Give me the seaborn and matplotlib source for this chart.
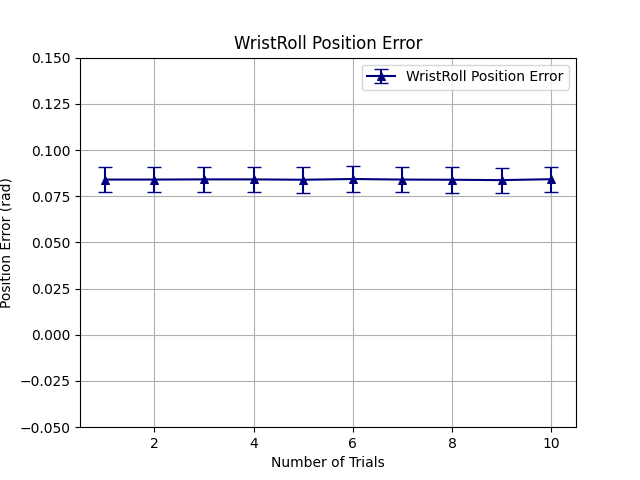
import pandas as pd
import matplotlib
matplotlib.use('Agg')
import matplotlib.pyplot as plt
import seaborn as sns
import numpy as np

# values
trials = [1, 2, 3, 4, 5, 6, 7, 8, 9, 10]
mean_err = [0.0840, 0.0840, 0.0841, 0.0841, 0.0839, 0.0843, 0.0840, 0.0839, 0.0837, 0.0842]
std_err = [0.0068, 0.0068, 0.0068, 0.0068, 0.0070, 0.0068, 0.0068, 0.0070, 0.0067, 0.0068]

df = pd.DataFrame({'trial': trials, 'error': mean_err, 'std': std_err})

fig, ax = plt.subplots(figsize=(6.4, 4.8), dpi=100)

line_ax = sns.lineplot(data=df, x='trial', y='error', color='navy', marker='^',
                       markersize=6, markeredgecolor='navy', ax=ax, legend=False)
bars = ax.errorbar(df['trial'], df['error'], yerr=df['std'], fmt='none',
                   ecolor='navy', capsize=5)

ax.set_xlim(0.5, 10.5)
ax.set_ylim(-0.05, 0.15)
ax.set_yticks(np.arange(-0.05, 0.151, 0.025))
ax.set_xticks([2, 4, 6, 8, 10])
ax.grid(True, color='#b0b0b0')
ax.set_title('WristRoll Position Error')
ax.set_xlabel('Number of Trials')
ax.set_ylabel('Position Error (rad)')
ax.legend(handles=[(line_ax.lines[0], bars)], labels=['WristRoll Position Error'],
          loc='upper right')

plt.savefig('out.png', dpi=100)
